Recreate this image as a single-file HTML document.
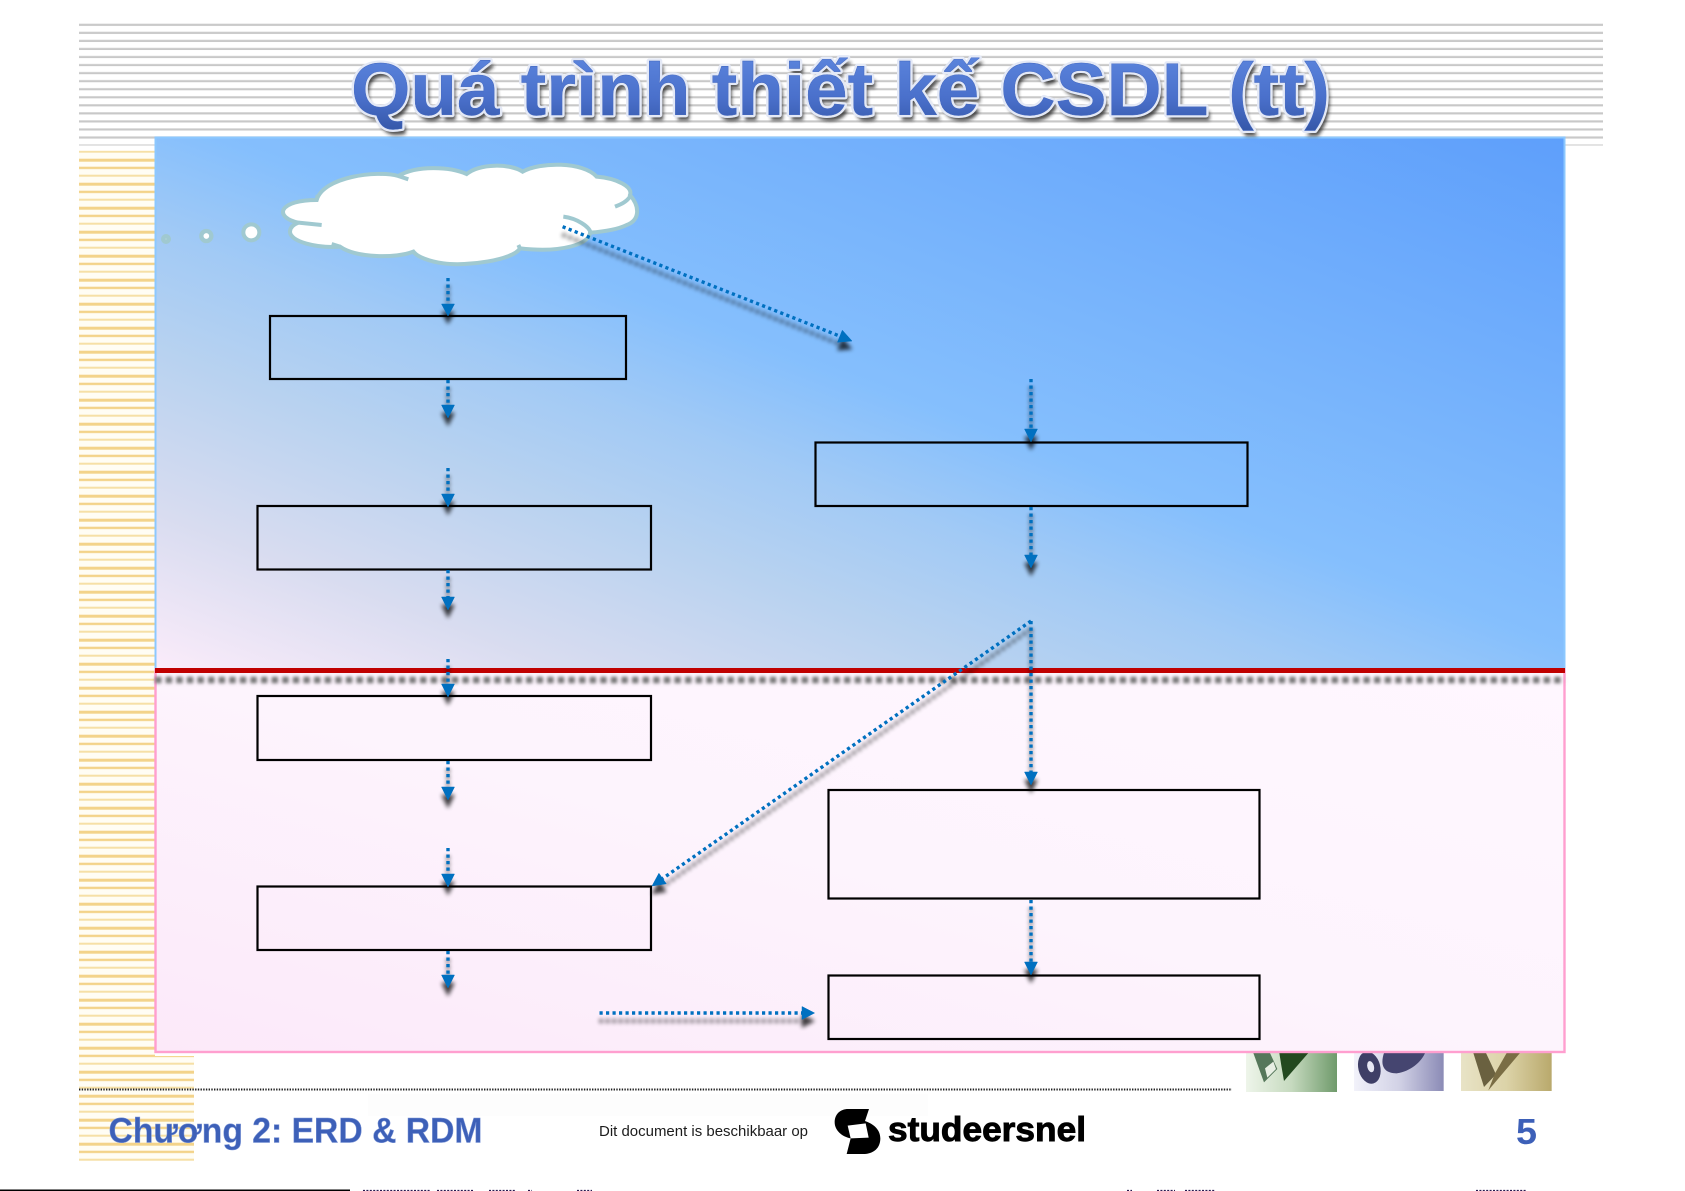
<!DOCTYPE html>
<html lang="vi"><head><meta charset="utf-8"><title>Quá trình thiết kế CSDL (tt)</title>
<style>html,body{margin:0;padding:0;background:#fff;width:1685px;height:1191px;overflow:hidden}svg{display:block}</style>
</head><body>
<svg width="1685" height="1191" viewBox="0 0 1685 1191" xmlns="http://www.w3.org/2000/svg">
<defs>
<pattern id="gs" patternUnits="userSpaceOnUse" x="0" y="23.5" width="10" height="8.05"><rect width="10" height="1" y="0" fill="#e0e0e0"/><rect width="10" height="1.8" y="0.6" fill="#c8c8c8"/></pattern>
<pattern id="os" patternUnits="userSpaceOnUse" x="0" y="150.7" width="10" height="24"><rect width="10" height="24" fill="#fffdf4"/><rect y="0" width="10" height="2" fill="#f6e0a6"/><rect y="8" width="10" height="3" fill="#f3d38a"/><rect y="16" width="10" height="2.4" fill="#f3d38a"/></pattern>
<linearGradient id="up" x1="1" y1="0" x2="0" y2="1"><stop offset="0" stop-color="#5e9ffb"/><stop offset=".48" stop-color="#85bffd"/><stop offset=".59" stop-color="#a2caf5"/><stop offset=".7" stop-color="#b8d2f0"/><stop offset=".85" stop-color="#d8dcf0"/><stop offset="1" stop-color="#fbecfa"/></linearGradient>
<linearGradient id="lo" x1="1" y1="0" x2="0" y2="1"><stop offset="0" stop-color="#fff7ff"/><stop offset=".5" stop-color="#fdf4fd"/><stop offset="1" stop-color="#fce9f9"/></linearGradient>
<linearGradient id="tt" x1="0" y1="0" x2="0" y2="1"><stop offset="0" stop-color="#5e88e0"/><stop offset=".6" stop-color="#4a70cb"/><stop offset="1" stop-color="#3557a8"/></linearGradient>
<linearGradient id="g1" x1="0" x2="1" y1="0" y2="0"><stop offset="0" stop-color="#eef5ea"/><stop offset=".5" stop-color="#c6dabf"/><stop offset="1" stop-color="#6f9a6b"/></linearGradient>
<linearGradient id="g2" x1="0" x2="1" y1="0" y2="0"><stop offset="0" stop-color="#f2f2fa"/><stop offset=".5" stop-color="#d2d2e6"/><stop offset="1" stop-color="#8b8bb6"/></linearGradient>
<linearGradient id="g3" x1="0" x2="1" y1="0" y2="0"><stop offset="0" stop-color="#e8e3c6"/><stop offset=".5" stop-color="#dcd3a8"/><stop offset="1" stop-color="#b9a96c"/></linearGradient>
<filter id="sh" filterUnits="userSpaceOnUse" x="0" y="0" width="1685" height="1191"><feGaussianBlur in="SourceAlpha" stdDeviation="2.2"/><feComponentTransfer><feFuncA type="linear" slope=".75"/></feComponentTransfer></filter>
<filter id="bl" filterUnits="userSpaceOnUse" x="0" y="660" width="1685" height="40"><feGaussianBlur stdDeviation="1.6"/></filter>
<filter id="ts" filterUnits="userSpaceOnUse" x="300" y="20" width="1100" height="140"><feGaussianBlur stdDeviation="1.8"/></filter>
</defs>

<!-- striped backgrounds -->
<rect x="79" y="23.5" width="1524" height="122" fill="url(#gs)"/>
<rect x="79" y="150.7" width="76" height="906" fill="url(#os)"/>
<rect x="79" y="1056" width="115" height="105" fill="url(#os)"/>

<!-- thumbnails -->
<g transform="translate(1240,1045) scale(.33333)">
<rect x="18" y="20" width="273" height="121" fill="url(#g1)"/>
<polygon points="40,24 72,112 112,72 90,24" fill="#55775a"/>
<polygon points="75,70 100,50 108,72 82,98" fill="#e8efe4"/>
<polygon points="132,108 205,24 118,24 124,62" fill="#23491f"/>
<rect x="342" y="20" width="269" height="118" fill="url(#g2)"/>
<ellipse cx="388" cy="68" rx="33" ry="49" fill="#3f3f66" transform="rotate(-14 388 68)"/>
<ellipse cx="392" cy="65" rx="10" ry="17" fill="#e8e8f4" transform="rotate(-14 392 65)"/>
<path d="M432,24 C420,60 430,85 470,85 C510,80 545,50 555,24Z" fill="#454570"/>
<rect x="663" y="20" width="272" height="118" fill="url(#g3)"/>
<polygon points="700,24 732,126 768,88 738,24" fill="#6a6140"/>
<polygon points="745,136 840,24 800,24 765,85" fill="#7a6d44"/>
</g>

<!-- main panel -->
<rect x="155.5" y="137.5" width="1409" height="533" fill="url(#up)" stroke="#8cc8ff" stroke-width="2"/>
<rect x="155.5" y="670" width="1409" height="382" fill="url(#lo)" stroke="#ff9fcf" stroke-width="2.4"/>
<line x1="155" y1="680" x2="1565" y2="680" stroke="#777" stroke-width="6.5" stroke-dasharray="6.5 4.1" filter="url(#bl)"/>
<rect x="155" y="668" width="1410" height="5" fill="#c00000"/>

<!-- cloud -->
<g transform="translate(150,150) scale(.33333)" stroke="#a0c9d0" stroke-width="12" fill="none">
<path fill="#fff" d="M500,150 C520,80 680,60 745,78 C800,45 900,50 950,72 C990,40 1080,40 1118,65 C1170,35 1300,35 1340,80 C1400,85 1450,110 1440,135 C1470,170 1470,210 1430,225 C1400,240 1360,245 1320,248 C1320,280 1240,310 1110,295 C1090,330 950,350 880,340 C840,335 800,320 790,305 C740,325 620,325 570,290 C500,295 420,275 420,245 C420,230 435,222 445,218 C410,210 395,195 400,180 C410,160 450,150 500,150Z"/>
<path d="M445,218 L515,225 M745,78 L775,88 M1440,140 C1430,155 1415,162 1395,170 M1240,200 C1280,205 1320,230 1322,250 M500,150 L503,135 M570,290 L545,282 M1110,295 L1105,285 M790,305 L800,315"/>
<circle cx="304" cy="247" r="24" fill="#fff" stroke-width="12"/>
<circle cx="169" cy="258" r="15" fill="#fff" stroke-width="13"/>
<circle cx="48" cy="267" r="8" fill="#fff" stroke-width="14"/>
</g>

<!-- boxes -->
<g fill="none" stroke="#000" stroke-width="2.2">
<rect x="270" y="316" width="356" height="63"/>
<rect x="257.5" y="506" width="393.5" height="63.5"/>
<rect x="257.5" y="696" width="393.5" height="64"/>
<rect x="257.5" y="886.5" width="393.5" height="63.5"/>
<rect x="815.5" y="442.5" width="432" height="63.5"/>
<rect x="828.5" y="790" width="431" height="108.5"/>
<rect x="828.5" y="975.5" width="431" height="63.5"/>
</g>

<!-- connectors -->
<use href="#arrows" transform="translate(0,8)" filter="url(#sh)"/>
<g id="arrows">
<g stroke="#0070c0" stroke-width="3.4" stroke-dasharray="3.2 3.3" fill="none">
<line x1="448" y1="278" x2="448" y2="304"/>
<line x1="448" y1="380" x2="448" y2="406"/>
<line x1="448" y1="468" x2="448" y2="495"/>
<line x1="448" y1="570" x2="448" y2="598"/>
<line x1="448" y1="659" x2="448" y2="685"/>
<line x1="448" y1="761" x2="448" y2="788"/>
<line x1="448" y1="848" x2="448" y2="875"/>
<line x1="448" y1="951" x2="448" y2="976"/>
<line x1="562.6" y1="226.7" x2="840" y2="336.2"/>
<line x1="1031" y1="379" x2="1031" y2="430"/>
<line x1="1031" y1="507" x2="1031" y2="556"/>
<line x1="1031" y1="621" x2="1031" y2="773"/>
<line x1="1031" y1="621" x2="662.6" y2="878.5"/>
<line x1="1031" y1="900" x2="1031" y2="963"/>
<line x1="599.5" y1="1013" x2="802" y2="1013"/>
</g>
<g fill="#0070c0" stroke="#0070c0" stroke-width=".5">
<polygon points="441.5,304 454.5,304 448,316"/>
<polygon points="441.5,405 454.5,405 448,418"/>
<polygon points="441.5,494 454.5,494 448,507"/>
<polygon points="441.5,597 454.5,597 448,610"/>
<polygon points="441.5,684 454.5,684 448,697"/>
<polygon points="441.5,787 454.5,787 448,800"/>
<polygon points="441.5,874 454.5,874 448,887"/>
<polygon points="441.5,975 454.5,975 448,988"/>
<polygon points="837.5,342.2 842.3,330.2 852,341"/>
<polygon points="1024.5,429 1037.5,429 1031,442"/>
<polygon points="1024.5,555 1037.5,555 1031,568"/>
<polygon points="1024.5,772 1037.5,772 1031,785"/>
<polygon points="666.3,883.8 658.9,873.2 652,886"/>
<polygon points="1024.5,962 1037.5,962 1031,975"/>
<polygon points="802,1006.5 802,1019.5 814.6,1013"/>
</g>
</g>

<!-- title -->
<text x="354" y="120" font-family="'Liberation Sans',sans-serif" font-weight="700" font-size="74" textLength="979" lengthAdjust="spacingAndGlyphs" fill="#222" stroke="#222" stroke-width="1" opacity=".8" filter="url(#ts)">Quá trình thiết kế CSDL (tt)</text>
<text x="351" y="115" font-family="'Liberation Sans',sans-serif" font-weight="700" font-size="74" textLength="979" lengthAdjust="spacingAndGlyphs" fill="#eef1fa" stroke="#e4e9f6" stroke-width="5" stroke-linejoin="round">Quá trình thiết kế CSDL (tt)</text>
<text x="351" y="115" font-family="'Liberation Sans',sans-serif" font-weight="700" font-size="74" textLength="979" lengthAdjust="spacingAndGlyphs" fill="url(#tt)" stroke="#3f64bd" stroke-width=".4">Quá trình thiết kế CSDL (tt)</text>

<!-- footer -->
<rect x="368" y="1094" width="560" height="22" fill="#fdfdfd"/>
<line x1="79" y1="1089.5" x2="1232" y2="1089.5" stroke="#222" stroke-width="2" stroke-dasharray="1.4 1.3"/>
<text x="108.5" y="1142.5" font-family="'Liberation Sans',sans-serif" font-weight="700" font-size="35" textLength="374" lengthAdjust="spacingAndGlyphs" fill="#3d60b8" stroke="#7f98d8" stroke-width=".5">Chương 2: ERD &amp; RDM</text>
<text x="1516" y="1144" font-family="'Liberation Sans',sans-serif" font-weight="700" font-size="36" fill="#3d60b8" textLength="21" lengthAdjust="spacingAndGlyphs">5</text>
<text x="599" y="1136" font-family="'Liberation Sans',sans-serif" font-size="15" fill="#1c1c1c" textLength="209" lengthAdjust="spacingAndGlyphs">Dit document is beschikbaar op</text>
<g transform="translate(820,1095) scale(.33333)">
<path fill="#000" d="M85,42 H147 L135,78 C155,85 181,100 181,130 C181,160 160,177 130,177 H80 L92,130 C65,125 44,105 44,82 C44,58 60,42 85,42Z"/>
<path fill="#fff" d="M83,92 L137,85 L146,128 L92,130Z"/>
</g>
<text x="888" y="1141" font-family="'Liberation Sans',sans-serif" font-weight="700" font-size="34" fill="#000" stroke="#000" stroke-width=".9" textLength="198" lengthAdjust="spacingAndGlyphs">studeersnel</text>

<!-- page bottom edge -->
<rect x="0" y="1189.5" width="350" height="1.5" fill="#000"/>
<g stroke-width="1.2" fill="none" stroke="#2a1a50" stroke-dasharray="2 1.4">
<line x1="363" y1="1190.5" x2="430" y2="1190.5"/>
<line x1="437" y1="1190.5" x2="474" y2="1190.5"/>
<line x1="489" y1="1190.5" x2="515" y2="1190.5"/>
<line x1="528" y1="1190.5" x2="532" y2="1190.5"/>
<line x1="577" y1="1190.5" x2="592" y2="1190.5"/>
<line x1="1127" y1="1190.5" x2="1132" y2="1190.5"/>
<line x1="1157" y1="1190.5" x2="1175" y2="1190.5"/>
<line x1="1185" y1="1190.5" x2="1215" y2="1190.5"/>
<line x1="1476" y1="1190.5" x2="1526" y2="1190.5"/>
</g>
</svg>
</body></html>
